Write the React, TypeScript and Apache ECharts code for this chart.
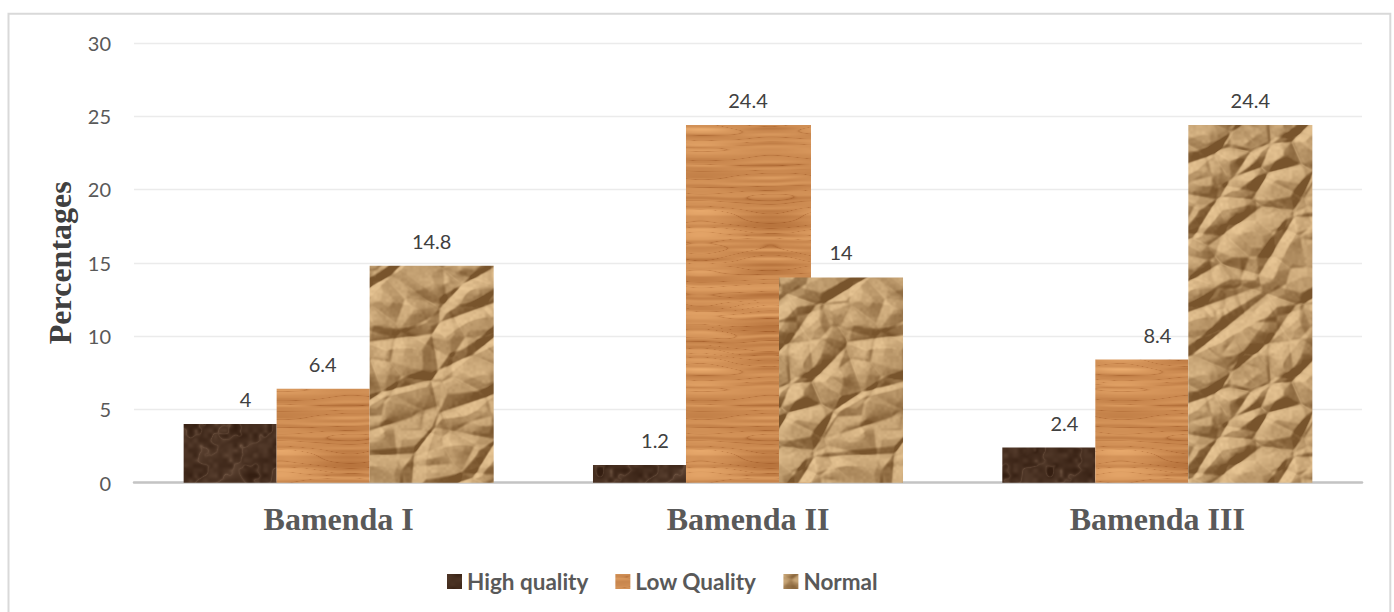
import React, { useEffect, useRef } from "react";
import * as echarts from "echarts";

// ---- data ----
const categories = ["Bamenda I", "Bamenda II", "Bamenda III"];
const seriesNames = ["High quality", "Low Quality", "Normal"];
const highQuality = [4, 1.2, 2.4];
const lowQuality = [6.4, 24.4, 8.4];
const normalValues = [14.8, 14, 24.4];
const yMin = 0;
const yMax = 30;
const yStep = 5;

// ---- bar geometry, as fractions of a category band (relative to its centre) ----
const barSpans: number[][][] = [
  [[-0.3787, -0.1515], [-0.3787, -0.1515], [-0.3787, -0.1515]],
  [[-0.1515, 0.0757], [-0.1515, 0.1539], [-0.1515, 0.0757]],
  [[0.0757, 0.3787], [0.0757, 0.3787], [0.0757, 0.3787]],
];
const labelShift: number[][] = [
  [-0.2272, -0.2272, -0.2272],
  [-0.0391, 0, 0],
  [0.2272, 0.2272, 0.2272],
];

// ---- procedural textures ----
function mulberry32(seed: number) {
  let a = seed;
  return () => {
    a |= 0;
    a = (a + 0x6d2b79f5) | 0;
    let t = Math.imul(a ^ (a >>> 15), 1 | a);
    t = (t + Math.imul(t ^ (t >>> 7), 61 | t)) ^ t;
    return ((t ^ (t >>> 14)) >>> 0) / 4294967296;
  };
}

function periodicNoise(rand: () => number, cx: number, cy: number) {
  const g = new Float32Array(cx * cy);
  for (let i = 0; i < g.length; i++) g[i] = rand();
  const at = (i: number, j: number) =>
    g[(((j % cy) + cy) % cy) * cx + (((i % cx) + cx) % cx)];
  return (u: number, v: number) => {
    const x = u * cx;
    const y = v * cy;
    const x0 = Math.floor(x);
    const y0 = Math.floor(y);
    const fx = x - x0;
    const fy = y - y0;
    const sx = fx * fx * (3 - 2 * fx);
    const sy = fy * fy * (3 - 2 * fy);
    const a = at(x0, y0);
    const b = at(x0 + 1, y0);
    const c = at(x0, y0 + 1);
    const d = at(x0 + 1, y0 + 1);
    return a + (b - a) * sx + (c - a) * sy + (a - b - c + d) * sx * sy;
  };
}

const clamp = (t: number) => (t < 0 ? 0 : t > 1 ? 1 : t);
function mix(c0: number[], c1: number[], t: number) {
  return [c0[0] + (c1[0] - c0[0]) * t, c0[1] + (c1[1] - c0[1]) * t, c0[2] + (c1[2] - c0[2]) * t];
}

function makeCanvas(w: number, h: number, shade: (u: number, v: number, x: number, y: number) => number[]) {
  const cv = document.createElement("canvas");
  cv.width = w;
  cv.height = h;
  const ctx = cv.getContext("2d")!;
  const img = ctx.createImageData(w, h);
  for (let y = 0; y < h; y++) {
    for (let x = 0; x < w; x++) {
      const c = shade(x / w, y / h, x, y);
      const k = (y * w + x) * 4;
      img.data[k] = c[0];
      img.data[k + 1] = c[1];
      img.data[k + 2] = c[2];
      img.data[k + 3] = 255;
    }
  }
  ctx.putImageData(img, 0, 0);
  return cv;
}

// wrap-around box blur of a scalar field
function blurField(f: Float32Array, w: number, h: number, r: number) {
  const tmp = new Float32Array(f.length);
  const out = new Float32Array(f.length);
  const n = 2 * r + 1;
  for (let y = 0; y < h; y++) {
    for (let x = 0; x < w; x++) {
      let s = 0;
      for (let k = -r; k <= r; k++) s += f[y * w + ((x + k + w) % w)];
      tmp[y * w + x] = s / n;
    }
  }
  for (let y = 0; y < h; y++) {
    for (let x = 0; x < w; x++) {
      let s = 0;
      for (let k = -r; k <= r; k++) s += tmp[((y + k + h) % h) * w + x];
      out[y * w + x] = s / n;
    }
  }
  return out;
}

// dark brown mottled stone
function marbleTexture() {
  const rand = mulberry32(11);
  const n1 = periodicNoise(rand, 3, 3);
  const n2 = periodicNoise(rand, 7, 7);
  const n3 = periodicNoise(rand, 14, 14);
  const n4 = periodicNoise(rand, 30, 30);
  const dark = [52, 30, 17];
  const light = [150, 120, 98];
  return makeCanvas(150, 150, (u, v) => {
    const f = 0.4 * n1(u, v) + 0.3 * n2(u, v) + 0.2 * n3(u, v) + 0.1 * n4(u, v);
    const swirl = Math.pow(1 - Math.abs(Math.sin((u * 2 + v + f * 2.2) * Math.PI * 2)), 3);
    const t = clamp(0.17 + (f - 0.5) * 0.8 + swirl * 0.25 + (n4(u, v) - 0.5) * 0.15);
    return mix(dark, light, t);
  });
}

// light oak, horizontal grain
function woodTexture() {
  const rand = mulberry32(23);
  const fine = periodicNoise(rand, 2, 80);
  const mid = periodicNoise(rand, 2, 26);
  const broad = periodicNoise(rand, 2, 6);
  const wave = periodicNoise(rand, 4, 5);
  const dark = [164, 94, 42];
  const light = [238, 176, 114];
  return makeCanvas(140, 240, (u, v) => {
    const w = (wave(u, v) - 0.5) * 0.012;
    const vv = v + w;
    const s1 = fine(u, vv);
    const s2 = mid(u, vv);
    const s3 = broad(u, vv);
    const line = Math.pow(1 - Math.abs(Math.sin((vv * 16 + s2 * 1.4) * Math.PI * 2)), 10);
    const t = clamp(0.1 + 0.42 * s1 + 0.3 * s2 + 0.2 * s3 - 0.3 * line);
    return mix(dark, light, t);
  });
}

// crumpled kraft paper: faceted height field, lit from the upper left
function paperTexture() {
  const rand = mulberry32(37);
  const W = 240;
  const H = 240;
  const layers = [
    { n: 24, ax: 0.85, ay: 1.35, ang: 0.55, amp: 1.0 },
    { n: 64, ax: 1.0, ay: 1.3, ang: -0.5, amp: 0.5 },
  ].map((l) => {
    const pts: number[][] = [];
    for (let i = 0; i < l.n; i++) pts.push([rand() * W, rand() * H]);
    return { ...l, pts, c: Math.cos(l.ang), s: Math.sin(l.ang) };
  });
  const height = new Float32Array(W * H);
  for (let y = 0; y < H; y++) {
    for (let x = 0; x < W; x++) {
      let hsum = 0;
      for (const l of layers) {
        let d1 = 1e9;
        let d2 = 1e9;
        for (const p of l.pts) {
          let dx = x - p[0];
          let dy = y - p[1];
          if (dx > W / 2) dx -= W;
          if (dx < -W / 2) dx += W;
          if (dy > H / 2) dy -= H;
          if (dy < -H / 2) dy += H;
          const rx = (dx * l.c - dy * l.s) * l.ax;
          const ry = (dx * l.s + dy * l.c) * l.ay;
          const d = Math.sqrt(rx * rx + ry * ry);
          if (d < d1) {
            d2 = d1;
            d1 = d;
          } else if (d < d2) {
            d2 = d;
          }
        }
        hsum += Math.min(d2 - d1, 22) * l.amp;
      }
      height[y * W + x] = hsum;
    }
  }
  const hs = blurField(height, W, H, 1);
  const grainNoise = periodicNoise(rand, 80, 80);
  const L = [-0.55, -0.6, 0.58];
  const ll = Math.hypot(L[0], L[1], L[2]);
  const dark = [120, 84, 44];
  const light = [242, 208, 158];
  return makeCanvas(W, H, (u, v, x, y) => {
    const xm = (x - 1 + W) % W;
    const xp = (x + 1) % W;
    const ym = (y - 1 + H) % H;
    const yp = (y + 1) % H;
    const gx = (hs[y * W + xp] - hs[y * W + xm]) * 0.5;
    const gy = (hs[yp * W + x] - hs[ym * W + x]) * 0.5;
    const nx = -gx * 0.45;
    const ny = -gy * 0.45;
    const nl = Math.hypot(nx, ny, 1);
    const lit = (nx * L[0] + ny * L[1] + L[2]) / (nl * ll);
    const cavity = Math.min(hs[y * W + x], 8) / 8;
    const t = clamp(0.0 + 0.78 * lit + 0.1 * cavity + (grainNoise(u, v) - 0.5) * 0.1);
    return mix(dark, light, t);
  });
}

// ---- chart ----
function buildOption() {
  const fills = [
    { image: marbleTexture(), repeat: "repeat" },
    { image: woodTexture(), repeat: "repeat" },
    { image: paperTexture(), repeat: "repeat" },
  ];
  const values = [highQuality, lowQuality, normalValues];

  const series = seriesNames.map((name, s) => ({
    type: "custom",
    name,
    itemStyle: { color: fills[s] as any },
    encode: { x: 0, y: 1 },
    data: values[s].map((v, i) => [i, v]),
    renderItem: (_params: any, api: any) => {
      const ci = api.value(0) as number;
      const v = api.value(1) as number;
      const base = api.coord([ci, 0]);
      const top = api.coord([ci, v]);
      const band = api.size([1, 0])[0];
      const [a, b] = barSpans[s][ci];
      return {
        type: "group",
        children: [
          {
            type: "rect",
            shape: {
              x: base[0] + a * band,
              y: top[1],
              width: (b - a) * band,
              height: base[1] - top[1],
            },
            style: { fill: fills[s] as any },
          },
          {
            type: "text",
            x: base[0] + labelShift[s][ci] * band,
            y: top[1] - 15,
            style: {
              text: String(v),
              align: "center",
              verticalAlign: "bottom",
              fill: "#404040",
              font: "20px Lato",
            },
          },
        ],
      };
    },
  }));

  return {
    animation: false,
    backgroundColor: "#ffffff",
    grid: { left: 134, right: 32, top: 42.8, bottom: 129.3, containLabel: false },
    graphic: [
      {
        type: "rect",
        shape: { x: 8.5, y: 13.7, width: 1381.8, height: 620 },
        style: { fill: "none", stroke: "#d9d9d9", lineWidth: 2 },
        silent: true,
      },
    ],
    legend: {
      data: seriesNames,
      top: 570,
      left: 447,
      padding: 0,
      icon: "rect",
      itemWidth: 15,
      itemHeight: 15,
      itemGap: 27,
      textStyle: { fontFamily: "Lato", fontWeight: "bold", fontSize: 22.5, color: "#595959" },
    },
    xAxis: {
      type: "category",
      data: categories,
      axisTick: { show: false },
      axisLine: { lineStyle: { color: "#c4c4c4", width: 2.5 } },
      axisLabel: {
        margin: 20,
        fontFamily: "Liberation Serif",
        fontWeight: "bold",
        fontSize: 32,
        color: "#595959",
      },
    },
    yAxis: {
      type: "value",
      min: yMin,
      max: yMax,
      interval: yStep,
      name: "Percentages",
      nameLocation: "middle",
      nameGap: 58,
      nameTextStyle: {
        fontFamily: "Liberation Serif",
        fontWeight: "bold",
        fontSize: 32,
        color: "#404040",
      },
      axisLine: { show: false },
      axisTick: { show: false },
      splitLine: { lineStyle: { color: "#ebebeb", width: 1.3 } },
      axisLabel: { margin: 23, fontFamily: "Lato", fontSize: 20, color: "#595959" },
    },
    series,
  };
}

export default function App() {
  const ref = useRef<HTMLDivElement>(null);
  useEffect(() => {
    if (!ref.current) return;
    const chart = echarts.init(ref.current, null, { renderer: "svg" });
    chart.setOption(buildOption() as any);
    return () => chart.dispose();
  }, []);
  return (
    <div
      ref={ref}
      style={{ position: "absolute", left: 0, top: 0, width: 1394, height: 612, background: "#fff" }}
    />
  );
}
